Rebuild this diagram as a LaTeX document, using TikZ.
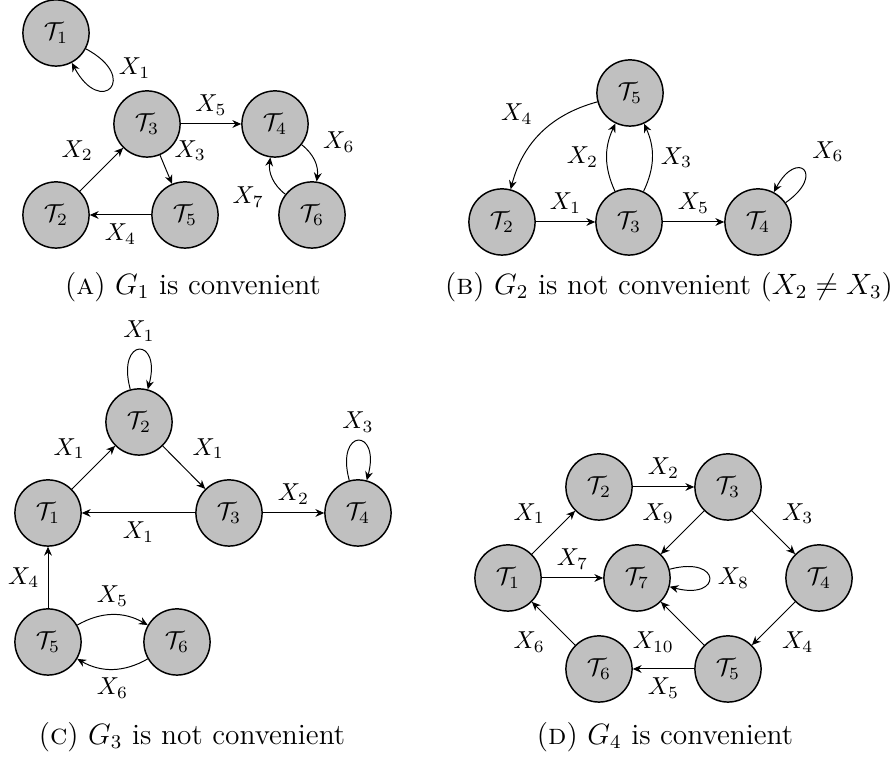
\documentclass[tikz,border=0pt]{standalone}
\usepackage{amsmath}
\usetikzlibrary{arrows.meta}

\definecolor{gcNodeFill}{HTML}{C0C0C0}

\begin{document}
\begin{tikzpicture}[x=0.408pt,y=0.408pt,
  taskNode/.style={circle,draw=black,semithick,fill=gcNodeFill,minimum size=27pt,inner sep=0pt},
  flow/.style={-{Stealth[length=3.6pt,width=3.2pt,inset=1.2pt]}},
  every loop/.style={},
  capText/.style={font=\fontsize{12}{14.4}\selectfont}]
  \useasboundingbox (0,0) rectangle (896,763);

  % ---- (a) G1 ----
  \node[taskNode] (a1) at (56,730) {$\mathcal{T}_1$};
  \node[taskNode] (a3) at (147,639) {$\mathcal{T}_3$};
  \node[taskNode] (a4) at (275,639) {$\mathcal{T}_4$};
  \node[taskNode] (a2) at (56,548)  {$\mathcal{T}_2$};
  \node[taskNode] (a5) at (185,548) {$\mathcal{T}_5$};
  \node[taskNode] (a6) at (312,548) {$\mathcal{T}_6$};
  \path[flow]
    (a1) edge[loop,out=-28,in=-62,looseness=8,min distance=8.5mm] node[above right] {$X_1$} (a1)
    (a2) edge node[above left] {$X_2$} (a3)
    (a3) edge node[above right] {$X_3$} (a5)
    (a3) edge node[above] {$X_5$} (a4)
    (a5) edge node[below] {$X_4$} (a2)
    (a4) edge[bend left=30] node[above right] {$X_6$} (a6)
    (a6) edge[bend left=30] node[below left] {$X_7$} (a4);
  \node[capText] (capA) at (193,476) {(\textsc{a}) $G_1$ is convenient};

  % ---- (b) G2 ----
  \node[taskNode] (b5) at (630,670) {$\mathcal{T}_5$};
  \node[taskNode] (b2) at (502,541) {$\mathcal{T}_2$};
  \node[taskNode] (b3) at (629,541) {$\mathcal{T}_3$};
  \node[taskNode] (b4) at (758,541) {$\mathcal{T}_4$};
  \path[flow]
    (b5) edge[bend right=30] node[above left] {$X_4$} (b2)
    (b2) edge node[above] {$X_1$} (b3)
    (b3) edge[bend left=25] node[left] {$X_2$} (b5)
    (b3) edge[bend right=25] node[right] {$X_3$} (b5)
    (b3) edge node[above] {$X_5$} (b4)
    (b4) edge[loop,out=35,in=62,looseness=8,min distance=7mm] node[above right] {$X_6$} (b4);
  \node[capText] (capB) at (669,476) {(\textsc{b}) $G_2$ is not convenient ($X_2 \neq X_3$)};

  % ---- (c) G3 ----
  \node[taskNode] (c2) at (139,341) {$\mathcal{T}_2$};
  \node[taskNode] (c1) at (48,250)  {$\mathcal{T}_1$};
  \node[taskNode] (c3) at (229,250) {$\mathcal{T}_3$};
  \node[taskNode] (c4) at (358,250) {$\mathcal{T}_4$};
  \node[taskNode] (c5) at (48,121)  {$\mathcal{T}_5$};
  \node[taskNode] (c6) at (177,121) {$\mathcal{T}_6$};
  \path[flow]
    (c2) edge[loop above] node[above] {$X_1$} (c2)
    (c1) edge node[above left] {$X_1$} (c2)
    (c2) edge node[above right] {$X_1$} (c3)
    (c3) edge node[below] {$X_1$} (c1)
    (c3) edge node[above] {$X_2$} (c4)
    (c4) edge[loop above] node[above] {$X_3$} (c4)
    (c5) edge node[left] {$X_4$} (c1)
    (c5) edge[bend left=30] node[above] {$X_5$} (c6)
    (c6) edge[bend left=30] node[below] {$X_6$} (c5);
  \node[capText] (capC) at (192,26) {(\textsc{c}) $G_3$ is not convenient};

  % ---- (d) G4 ----
  \node[taskNode] (d2) at (599,276) {$\mathcal{T}_2$};
  \node[taskNode] (d3) at (728,276) {$\mathcal{T}_3$};
  \node[taskNode] (d1) at (508,185) {$\mathcal{T}_1$};
  \node[taskNode] (d7) at (637,185) {$\mathcal{T}_7$};
  \node[taskNode] (d4) at (819,185) {$\mathcal{T}_4$};
  \node[taskNode] (d6) at (599,94)  {$\mathcal{T}_6$};
  \node[taskNode] (d5) at (728,94)  {$\mathcal{T}_5$};
  \path[flow]
    (d1) edge node[above left] {$X_1$} (d2)
    (d2) edge node[above] {$X_2$} (d3)
    (d3) edge node[above left] {$X_9$} (d7)
    (d3) edge node[above right] {$X_3$} (d4)
    (d1) edge node[above] {$X_7$} (d7)
    (d7) edge[loop right] node[right] {$X_8$} (d7)
    (d4) edge node[below right] {$X_4$} (d5)
    (d5) edge node[below] {$X_5$} (d6)
    (d5) edge node[below left] {$X_{10}$} (d7)
    (d6) edge node[below left] {$X_6$} (d1);
  \node[capText] (capD) at (665,26) {(\textsc{d}) $G_4$ is convenient};
\end{tikzpicture}
\end{document}
